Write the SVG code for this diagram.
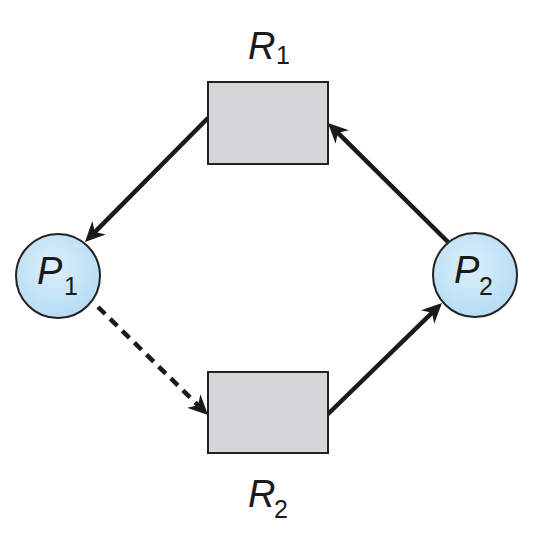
<svg xmlns="http://www.w3.org/2000/svg" width="536" height="538" viewBox="0 0 536 538">
  <defs>
    <radialGradient id="cg" cx="0.45" cy="0.4" r="0.6">
      <stop offset="0" stop-color="#dcf0fb"/>
      <stop offset="1" stop-color="#b6dcf3"/>
    </radialGradient>
    <marker id="ah" markerUnits="userSpaceOnUse" viewBox="0 -12 24 24" markerWidth="24" markerHeight="24" refX="11" refY="0" orient="auto">
      <path d="M20,0 L0,-9.5 L6,0 L0,9.5 Z" fill="#1a1a1a"/>
    </marker>
  </defs>
  <style>
    .res { fill: #d4d5d7; stroke: #222; stroke-width: 2; }
    .proc { fill: url(#cg); stroke: #222; stroke-width: 2; }
    .edge { stroke: #1a1a1a; stroke-width: 4.5; fill: none; marker-end: url(#ah); }
    .dash { stroke-dasharray: 10 7; }
    .lbl { font-family: "Liberation Sans", Arial, sans-serif; fill: #1a1a1a; }
    .main { font-style: italic; font-size: 38px; }
    .sub { font-size: 25px; }
  </style>
  <rect width="536" height="538" fill="#ffffff"/>
  <g id="connectors">
    <line class="edge" x1="208" y1="118" x2="91.3" y2="235.6"/>
    <line class="edge" x1="448" y1="242" x2="334.4" y2="129.3"/>
    <line class="edge dash" x1="98" y1="307" x2="201.6" y2="408.7"/>
    <line class="edge" x1="327" y1="415" x2="435.5" y2="309.3"/>
  </g>
  <g id="R1">
    <rect class="res" x="208" y="82" width="120" height="82"/>
    <text class="lbl" x="248" y="59"><tspan class="main">R</tspan><tspan class="sub" x="276" y="64">1</tspan></text>
  </g>
  <g id="R2">
    <rect class="res" x="208" y="372" width="120" height="81"/>
    <text class="lbl" x="248" y="507"><tspan class="main">R</tspan><tspan class="sub" x="274" y="518">2</tspan></text>
  </g>
  <g id="P1">
    <circle class="proc" cx="58" cy="276" r="42"/>
    <text class="lbl" x="37" y="284"><tspan class="main">P</tspan><tspan class="sub" x="64" y="295">1</tspan></text>
  </g>
  <g id="P2">
    <circle class="proc" cx="475" cy="275" r="42"/>
    <text class="lbl" x="454" y="283"><tspan class="main">P</tspan><tspan class="sub" x="479" y="295">2</tspan></text>
  </g>
</svg>
